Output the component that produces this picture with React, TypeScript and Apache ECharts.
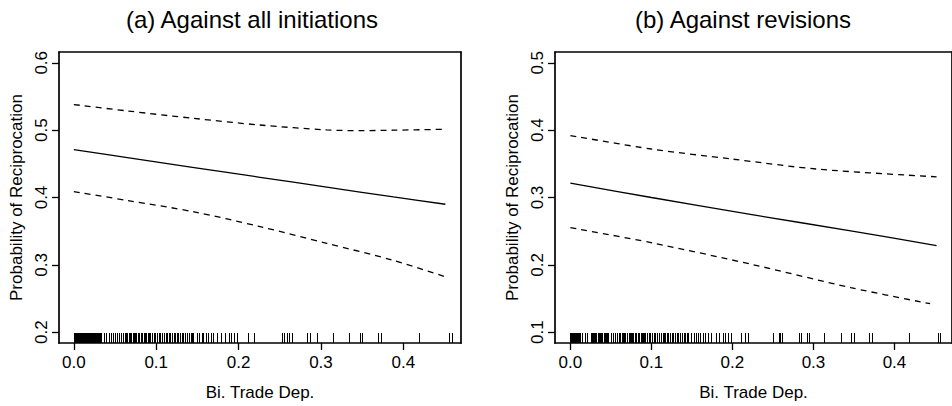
import React, { useEffect, useRef } from "react";
import * as echarts from "echarts";

const titles = ["(a) Against all initiations", "(b) Against revisions"];
const xTicks = [0, 0.1, 0.2, 0.3, 0.4];
const yTicksA = [0.2, 0.3, 0.4, 0.5, 0.6];
const yTicksB = [0.1, 0.2, 0.3, 0.4, 0.5];

// Panel (a) fitted curve and 95% bounds: [trade dependence, probability]
const fitA = [[0, 0.471], [0.065, 0.4592], [0.146, 0.4445], [0.226, 0.43], [0.307, 0.4155], [0.388, 0.4008], [0.451, 0.39]];
const upperA = [[0, 0.538], [0.065, 0.5285], [0.146, 0.5174], [0.226, 0.5076], [0.307, 0.5003], [0.348, 0.4993], [0.388, 0.4999], [0.451, 0.5013]];
const lowerA = [[0, 0.4088], [0.065, 0.3956], [0.146, 0.3787], [0.226, 0.3568], [0.307, 0.332], [0.388, 0.3066], [0.451, 0.2823]];

// Panel (b)
const fitB = [[0, 0.3215], [0.1, 0.3], [0.224, 0.2745], [0.346, 0.2505], [0.452, 0.2285]];
const upperB = [[0, 0.392], [0.1, 0.372], [0.2, 0.357], [0.306, 0.342], [0.452, 0.3307]];
const lowerB = [[0, 0.2553], [0.102, 0.2324], [0.224, 0.2007], [0.346, 0.1662], [0.444, 0.1423]];

// Rug (observed values of bilateral trade dependence)
const rugA = [
  0, 0.0008, 0.0015, 0.002, 0.003, 0.0035, 0.004, 0.005, 0.0055, 0.006, 0.0065, 0.0072, 0.008, 0.009,
  0.0095, 0.0105, 0.011, 0.012, 0.013, 0.0135, 0.0145, 0.0155, 0.016, 0.0168, 0.0175, 0.0182, 0.019,
  0.0198, 0.0205, 0.0212, 0.022, 0.0228, 0.0235, 0.0243, 0.025, 0.026, 0.0265, 0.0272, 0.028, 0.029,
  0.0298, 0.0305, 0.0313, 0.032, 0.0328, 0.0335,
  0.0363, 0.0395, 0.0423, 0.0452, 0.0476, 0.0496, 0.0524, 0.0552, 0.0573, 0.0597, 0.0617, 0.0633,
  0.0645, 0.0665, 0.0677, 0.0694, 0.0718, 0.0734, 0.0746, 0.0758, 0.0778, 0.0794, 0.0815, 0.0831,
  0.0847, 0.0867, 0.0879, 0.0895, 0.0911, 0.0927, 0.0948, 0.0968, 0.0984, 0.1008, 0.1028, 0.1048,
  0.1069, 0.1089, 0.1121, 0.1137, 0.1153, 0.1169, 0.119, 0.121, 0.123, 0.125, 0.127, 0.129, 0.131,
  0.133, 0.135, 0.1379, 0.1403, 0.1419, 0.1435, 0.1452, 0.1492, 0.1524, 0.1552, 0.1573, 0.1605,
  0.1633, 0.1661, 0.1694, 0.1734, 0.1792, 0.184, 0.188, 0.1908, 0.194, 0.198, 0.2112, 0.2192,
  0.2526, 0.2554, 0.2587, 0.2618, 0.2647, 0.2836, 0.2861, 0.2958, 0.3144, 0.3346, 0.3475, 0.3503,
  0.3697, 0.3726, 0.4194, 0.4558, 0.4587,
];
const rugB = [
  0, 0.0008, 0.0015, 0.002, 0.003, 0.0035, 0.004, 0.005, 0.0055, 0.006, 0.0065, 0.0072, 0.008, 0.009,
  0.0095, 0.0105, 0.011, 0.012, 0.0145, 0.018, 0.021, 0.025, 0.0265, 0.028, 0.029, 0.0305, 0.032,
  0.0335, 0.035, 0.0365, 0.038, 0.0395, 0.041, 0.0423, 0.044, 0.0452, 0.047, 0.0496, 0.0524, 0.0552,
  0.0573, 0.0597, 0.0617, 0.0633, 0.0645, 0.0665, 0.0677, 0.0694, 0.0718, 0.0734, 0.0746, 0.0758,
  0.0778, 0.0794, 0.0815, 0.0831, 0.0847, 0.0867, 0.0879, 0.0895, 0.0911, 0.0927, 0.0948, 0.0968,
  0.0984, 0.1008, 0.1028, 0.1048, 0.1069, 0.1089, 0.1121, 0.1137, 0.1153, 0.1169, 0.119, 0.121, 0.123,
  0.125, 0.127, 0.129, 0.131, 0.133, 0.135, 0.1379, 0.1403, 0.1419, 0.1435, 0.1452, 0.1492, 0.1524,
  0.1552, 0.1573, 0.1605, 0.1633, 0.1661, 0.1694, 0.1734, 0.1792, 0.184, 0.188, 0.1908, 0.194, 0.198,
  0.2107, 0.216, 0.219, 0.2498, 0.257, 0.259, 0.261, 0.2825, 0.2845, 0.2926, 0.294, 0.3128, 0.3338,
  0.3466, 0.35, 0.3689, 0.372, 0.4177, 0.4536, 0.4568,
];

const FONT = "'Liberation Sans', Arial, Helvetica, sans-serif";

export default function App() {
  const ref = useRef<HTMLDivElement>(null);
  useEffect(() => {
    if (!ref.current) return;
    const chart = echarts.init(ref.current, undefined, { renderer: "svg" });
    const yRanges = [
      [0.184, 0.616],
      [0.084, 0.516],
    ];
    const xRanges = [
      [-0.018, 0.47],
      [-0.019, 0.471],
    ];
    const grids = [
      { left: 59, top: 52, width: 402, height: 295 },
      { left: 555, top: 52, width: 402, height: 295 },
    ];
    const boxLine = { show: true, onZero: false, lineStyle: { color: "#000", width: 1.7 } };
    const mkX = (i: number) => ({
      type: "value",
      gridIndex: i,
      position: "bottom",
      min: xRanges[i][0],
      max: xRanges[i][1],
      name: "Bi. Trade Dep.",
      nameLocation: "middle",
      nameGap: 41,
      nameTextStyle: { fontSize: 17, color: "#000", fontFamily: FONT },
      axisLine: boxLine,
      splitLine: { show: false },
      axisTick: { show: true, length: 7, inside: false, lineStyle: { color: "#000", width: 1.3 }, customValues: xTicks },
      axisLabel: {
        show: true,
        margin: 11,
        fontSize: 17,
        color: "#000",
        fontFamily: FONT,
        customValues: xTicks,
        formatter: (v: number) => v.toFixed(1),
      },
    });
    const mkXTop = (i: number) => ({
      type: "value",
      gridIndex: i,
      position: "top",
      min: xRanges[i][0],
      max: xRanges[i][1],
      axisLine: boxLine,
      axisTick: { show: false },
      axisLabel: { show: false },
      splitLine: { show: false },
    });
    const mkY = (i: number, ticks: number[]) => ({
      type: "value",
      gridIndex: i,
      position: "left",
      min: yRanges[i][0],
      max: yRanges[i][1],
      name: "Probability of Reciprocation",
      nameLocation: "middle",
      nameGap: 34,
      nameTextStyle: { fontSize: 17, color: "#000", fontFamily: FONT },
      axisLine: boxLine,
      splitLine: { show: false },
      axisTick: { show: true, length: 7, inside: false, lineStyle: { color: "#000", width: 1.3 }, customValues: ticks },
      axisLabel: {
        show: true,
        margin: 9,
        rotate: 90,
        fontSize: 17,
        color: "#000",
        fontFamily: FONT,
        customValues: ticks,
        formatter: (v: number) => v.toFixed(1),
      },
    });
    const mkYRight = (i: number) => ({
      type: "value",
      gridIndex: i,
      position: "right",
      min: yRanges[i][0],
      max: yRanges[i][1],
      axisLine: boxLine,
      axisTick: { show: false },
      axisLabel: { show: false },
      splitLine: { show: false },
    });
    const lineSeries = (i: number, data: number[][], dashed: boolean) => ({
      type: "line",
      xAxisIndex: i,
      yAxisIndex: i,
      data,
      smooth: 0.3,
      showSymbol: false,
      silent: true,
      lineStyle: { color: "#000", width: 1.3, type: dashed ? [6, 5] : "solid" },
    });
    const rugSeries = (i: number, vals: number[]) => ({
      type: "custom",
      xAxisIndex: i,
      yAxisIndex: i,
      silent: true,
      data: vals.map((v) => [v, yRanges[i][0]]),
      encode: { x: 0, y: 1 },
      renderItem: (_p: any, api: any) => {
        const pt = api.coord([api.value(0), api.value(1)]);
        const px = Math.round(pt[0]) + 0.5;
        return {
          type: "line",
          shape: { x1: px, y1: pt[1], x2: px, y2: pt[1] - 10 },
          style: { stroke: "#000", lineWidth: 1 },
        };
      },
    });
    chart.setOption({
      animation: false,
      backgroundColor: "#fff",
      grid: grids,
      xAxis: [mkX(0), mkX(1), mkXTop(0), mkXTop(1)],
      yAxis: [mkY(0, yTicksA), mkY(1, yTicksB), mkYRight(0), mkYRight(1)],
      graphic: [
        {
          type: "text",
          x: 252,
          y: 19,
          style: { text: titles[0], fontSize: 24, fill: "#000", fontFamily: FONT, textAlign: "center", textVerticalAlign: "middle" },
        },
        {
          type: "text",
          x: 743,
          y: 19,
          style: { text: titles[1], fontSize: 24, fill: "#000", fontFamily: FONT, textAlign: "center", textVerticalAlign: "middle" },
        },
      ],
      series: [
        lineSeries(0, fitA, false),
        lineSeries(0, upperA, true),
        lineSeries(0, lowerA, true),
        rugSeries(0, rugA),
        lineSeries(1, fitB, false),
        lineSeries(1, upperB, true),
        lineSeries(1, lowerB, true),
        rugSeries(1, rugB),
      ],
    });
    return () => chart.dispose();
  }, []);
  return <div ref={ref} style={{ position: "absolute", left: 0, top: 0, width: 952, height: 406 }} />;
}
